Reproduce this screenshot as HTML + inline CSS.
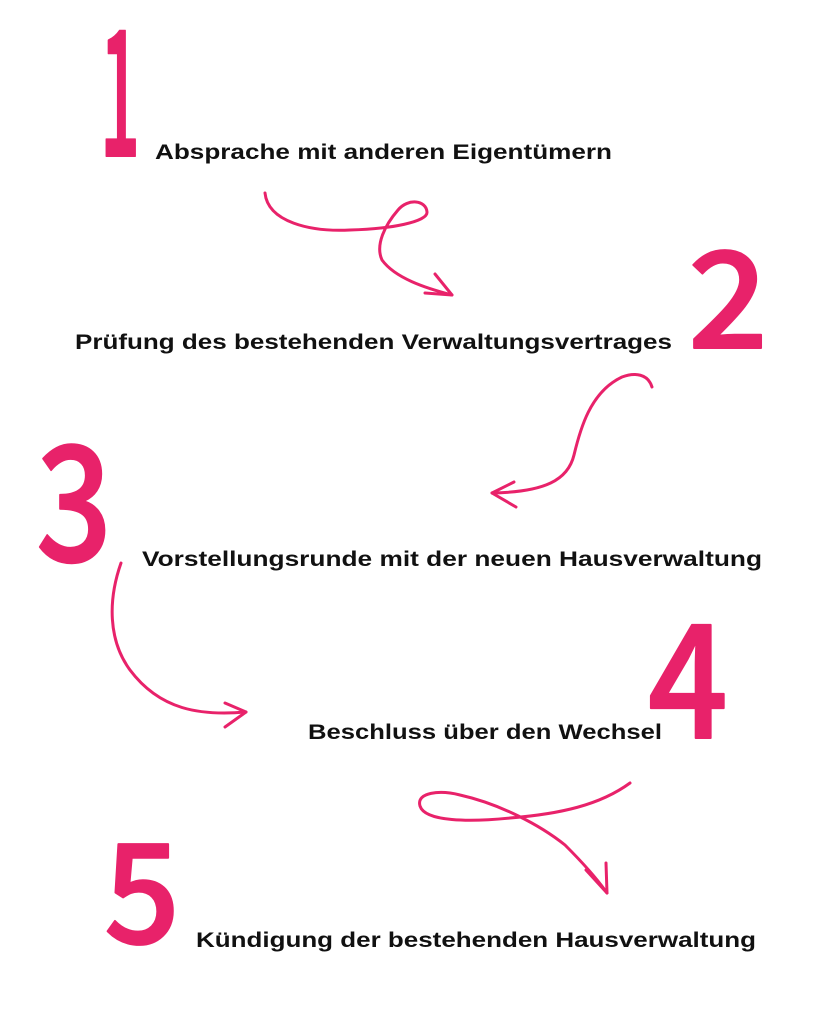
<!DOCTYPE html>
<html><head><meta charset="utf-8"><style>
html,body{margin:0;padding:0;background:#fff;}
svg{display:block;}
.t{font-family:"Liberation Sans",sans-serif;font-weight:bold;font-size:21px;fill:#111;}
.n{font-family:"Noto Sans CJK JP","Liberation Sans",sans-serif;font-weight:500;fill:#e8226a;stroke:#e8226a;stroke-width:2;stroke-linejoin:round;}
.a{fill:none;stroke:#e8226a;stroke-width:3;stroke-linecap:round;stroke-linejoin:round;}
</style></head><body>
<svg width="818" height="1023" viewBox="0 0 818 1023" xmlns="http://www.w3.org/2000/svg">
<text class="n" x="100" y="156" font-size="175" textLength="40" lengthAdjust="spacingAndGlyphs">1</text>
<text class="n" x="688" y="348" font-size="134" textLength="80" lengthAdjust="spacingAndGlyphs">2</text>
<text class="n" x="36" y="561" font-size="160" textLength="76" lengthAdjust="spacingAndGlyphs">3</text>
<text class="n" x="648" y="738" font-size="158" textLength="80" lengthAdjust="spacingAndGlyphs">4</text>
<text class="n" x="104" y="943" font-size="138" textLength="76" lengthAdjust="spacingAndGlyphs">5</text>
<text class="t" x="155" y="159" textLength="457" lengthAdjust="spacingAndGlyphs">Absprache mit anderen Eigentümern</text>
<text class="t" x="75" y="349" textLength="597" lengthAdjust="spacingAndGlyphs">Prüfung des bestehenden Verwaltungsvertrages</text>
<text class="t" x="142" y="566" textLength="620" lengthAdjust="spacingAndGlyphs">Vorstellungsrunde mit der neuen Hausverwaltung</text>
<text class="t" x="308" y="739" textLength="354" lengthAdjust="spacingAndGlyphs">Beschluss über den Wechsel</text>
<text class="t" x="196" y="947" textLength="560" lengthAdjust="spacingAndGlyphs">Kündigung der bestehenden Hausverwaltung</text>
<path class="a" d="M265,193 C268,222 310,232 350,230 C390,229 428,222 427,212 C426,200 408,198 398,210 C385,225 375,245 382,260 C395,278 425,288 452,295"/>
<path class="a" d="M435,274 L452,295 L425,293"/>
<path class="a" d="M652,387 C648,374 635,372 622,377 C590,392 580,430 574,455 C568,480 545,492 492,493"/>
<path class="a" d="M514,482 L492,493 L516,507"/>
<path class="a" d="M121,563 C108,600 108,640 130,670 C160,710 200,716 246,712"/>
<path class="a" d="M225,703 L246,712 L225,727"/>
<path class="a" d="M630,783 C600,805 560,814 510,818 C470,822 425,822 420,806 C416,792 440,790 460,795 C500,804 540,825 565,845 C585,865 598,880 607,893"/>
<path class="a" d="M586,870 L607,893 L606,863"/>
</svg>
</body></html>
